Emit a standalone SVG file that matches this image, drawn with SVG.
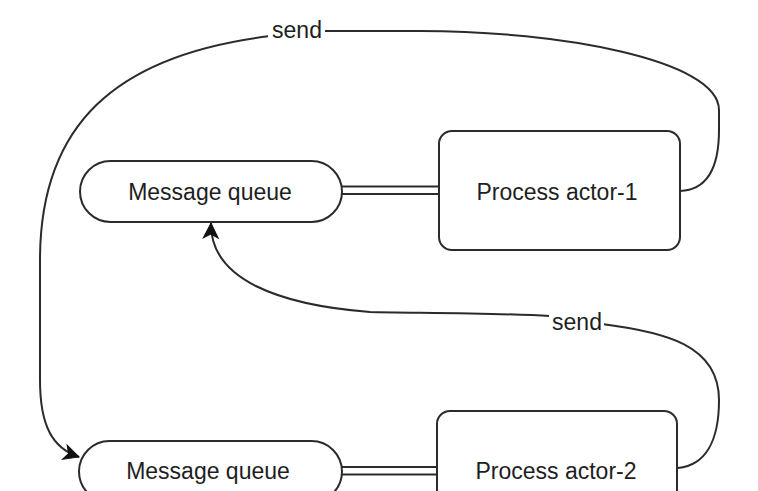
<svg xmlns="http://www.w3.org/2000/svg" width="758" height="491" viewBox="0 0 758 491">
  <style>
    .shape { fill: #ffffff; stroke: #2b2b2b; stroke-width: 2; }
    .label { font-family: "Liberation Sans", Arial, Helvetica, sans-serif; font-size: 23px; fill: #1e1e1e; text-anchor: middle; }
    .edge { fill: none; stroke: #2b2b2b; stroke-width: 2; }
    .link { fill: none; stroke: #2b2b2b; stroke-width: 2; }
    .lblbg { fill: #ffffff; }
  </style>
  <defs>
    <marker id="arrow" markerUnits="userSpaceOnUse" markerWidth="18" markerHeight="18" viewBox="0 0 18 18" refX="16" refY="9" orient="auto">
      <path d="M1,1.5 L16,9 L1,16.5 L5,9 Z" fill="#111111" stroke="#111111" stroke-width="1"/>
    </marker>
  </defs>
  <rect width="758" height="491" fill="#ffffff"/>

  <g id="connectors">
    <!-- double links between queues and actors -->
    <line class="link" x1="342" y1="186.5" x2="439" y2="186.5"/>
    <line class="link" x1="342" y1="194" x2="439" y2="194"/>
    <line class="link" x1="342" y1="467" x2="437" y2="467"/>
    <line class="link" x1="342" y1="474.5" x2="437" y2="474.5"/>

    <!-- actor-1 send to bottom queue -->
    <path class="edge" marker-end="url(#arrow)" d="M680,191 C706,190 719,170 719,130 L719,110 C719,60 560,31 420,31 L325,31 L270,36 C115,55 40,125 40,260 L40,380 C40,425 52,448 79,457"/>
    <!-- actor-2 send to top queue -->
    <path class="edge" marker-end="url(#arrow)" d="M678,468 C706,465 719,440 719,400 C719,345 665,332 602,324 L550,316 C500,313 410,313 370,312 C280,305 210,280 211,223"/>

    <rect class="lblbg" x="268" y="18" width="57" height="24"/>
    <text class="label" x="297" y="38">send</text>
    <rect class="lblbg" x="549" y="309" width="55" height="24"/>
    <text class="label" x="577" y="330">send</text>
  </g>

  <g id="queue1">
    <rect class="shape" x="80" y="161" width="262" height="61" rx="30.5" ry="30.5"/>
    <text class="label" x="210" y="200">Message queue</text>
  </g>

  <g id="actor1">
    <rect class="shape" x="439" y="131" width="241" height="119" rx="13" ry="13"/>
    <text class="label" x="557" y="200">Process actor-1</text>
  </g>

  <g id="queue2">
    <rect class="shape" x="79" y="441" width="263" height="61" rx="30.5" ry="30.5"/>
    <text class="label" x="208" y="479">Message queue</text>
  </g>

  <g id="actor2">
    <rect class="shape" x="437" y="411" width="240" height="119" rx="13" ry="13"/>
    <text class="label" x="556" y="479">Process actor-2</text>
  </g>
</svg>
